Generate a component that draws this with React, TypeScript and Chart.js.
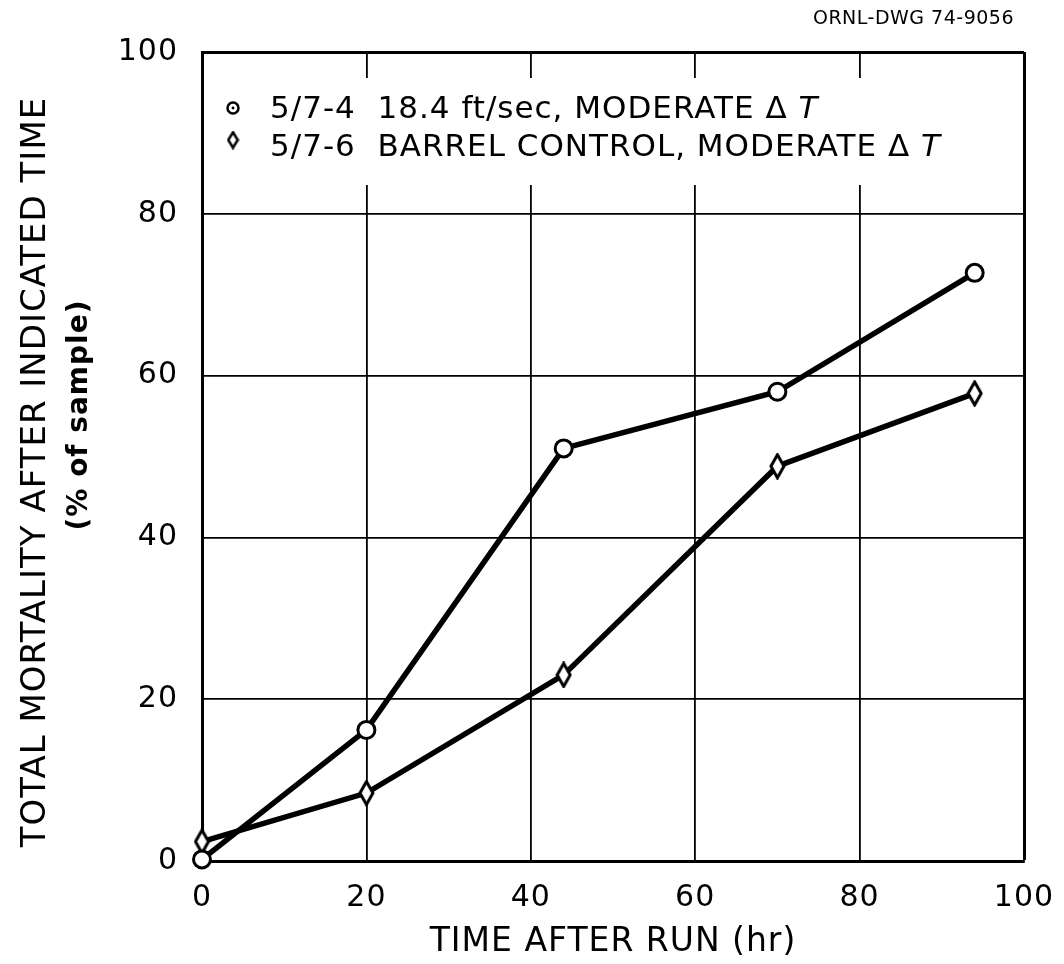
import React, { useEffect, useRef } from "react";
import { Chart, registerables } from "chart.js";

Chart.register(...registerables);

// ---- data ----
const timeHr = [0, 20, 44, 70, 94];
const mortality574 = [0.2, 16.2, 51, 58, 72.7];
const mortality576 = [2.4, 8.4, 23, 48.8, 57.8];
const legendLabels = ["5/7-4  18.4 ft/sec, MODERATE \u0394 ", "5/7-6  BARREL CONTROL, MODERATE \u0394 "];
const legendSuffix = "T";
const xAxisTitle = "TIME AFTER RUN (hr)";
const yAxisTitleLines = ["TOTAL MORTALITY AFTER INDICATED TIME", "(% of sample)"];
const drawingNumber = "ORNL-DWG 74-9056";

const FONT = "'DejaVu Sans', sans-serif";

function makeDiamond(w: number, h: number, lw: number): HTMLCanvasElement {
  const c = document.createElement("canvas");
  c.width = w;
  c.height = h;
  const g = c.getContext("2d")!;
  g.beginPath();
  g.moveTo(w / 2, lw / 2 + 0.5);
  g.lineTo(w - lw / 2 - 0.5, h / 2);
  g.lineTo(w / 2, h - lw / 2 - 0.5);
  g.lineTo(lw / 2 + 0.5, h / 2);
  g.closePath();
  g.fillStyle = "#fff";
  g.fill();
  g.lineWidth = lw;
  g.strokeStyle = "#000";
  g.lineJoin = "miter";
  g.stroke();
  return c;
}

export default function App() {
  const ref = useRef<HTMLCanvasElement | null>(null);

  useEffect(() => {
    document.body.style.margin = "0";
    const canvas = ref.current;
    if (!canvas) return;

    const diamond = makeDiamond(17, 27, 3);
    const legendDiamond = makeDiamond(13, 19, 2.5);

    const overlay = {
      id: "overlay",
      beforeDraw(chart: any) {
        chart.ctx.letterSpacing = "1px";
      },
      beforeDatasetsDraw(chart: any) {
        const { ctx, chartArea } = chart;
        ctx.save();
        ctx.fillStyle = "#fff";
        ctx.fillRect(chartArea.left + 2, chartArea.top + 26, chartArea.right - chartArea.left - 4, 107);
        ctx.restore();
      },
      afterDraw(chart: any) {
        const { ctx, chartArea } = chart;
        ctx.save();
        ctx.fillStyle = "#000";
        ctx.strokeStyle = "#000";

        // legend
        const mx = chartArea.left + 31;
        const tx = chartArea.left + 68;
        const rows = [chartArea.top + 58, chartArea.top + 96];
        ctx.lineWidth = 2.5;
        ctx.beginPath();
        ctx.arc(mx, rows[0] - 2, 5.5, 0, Math.PI * 2);
        ctx.stroke();
        ctx.beginPath();
        ctx.arc(mx, rows[0] - 2, 1.4, 0, Math.PI * 2);
        ctx.fill();
        ctx.drawImage(legendDiamond, mx - legendDiamond.width / 2, rows[1] - 8 - legendDiamond.height / 2);

        ctx.letterSpacing = "1px";
        ctx.textBaseline = "middle";
        ctx.textAlign = "left";
        legendLabels.forEach((lab, i) => {
          ctx.font = `31px ${FONT}`;
          ctx.fillText(lab, tx, rows[i]);
          const w = ctx.measureText(lab).width;
          ctx.font = `italic 31px ${FONT}`;
          ctx.fillText(legendSuffix, tx + w, rows[i]);
        });

        // y axis title (two lines)
        ctx.textAlign = "center";
        ctx.save();
        ctx.translate(36, 472);
        ctx.rotate(-Math.PI / 2);
        ctx.font = `34px ${FONT}`;
        ctx.fillText(yAxisTitleLines[0], 0, 0);
        ctx.restore();
        ctx.save();
        ctx.translate(80, 415);
        ctx.rotate(-Math.PI / 2);
        ctx.font = `bold 28px ${FONT}`;
        ctx.fillText(yAxisTitleLines[1], 0, 0);
        ctx.restore();

        // drawing number
        ctx.textAlign = "right";
        ctx.letterSpacing = "0.5px";
        ctx.font = `19px ${FONT}`;
        ctx.fillText(drawingNumber, 1014, 19);
        ctx.restore();
      },
    };

    const chart = new Chart(canvas, {
      type: "line",
      data: {
        datasets: [
          {
            label: legendLabels[0] + legendSuffix,
            data: timeHr.map((x, i) => ({ x, y: mortality574[i] })),
            borderColor: "#000",
            borderWidth: 5.5,
            pointStyle: "circle",
            pointRadius: 8.5,
            pointBorderWidth: 3,
            pointBackgroundColor: "#fff",
            pointBorderColor: "#000",
            tension: 0,
            clip: false as any,
          },
          {
            label: legendLabels[1] + legendSuffix,
            data: timeHr.map((x, i) => ({ x, y: mortality576[i] })),
            borderColor: "#000",
            borderWidth: 5.5,
            pointStyle: diamond as any,
            pointRadius: 10,
            tension: 0,
            clip: false as any,
          },
        ],
      },
      options: {
        responsive: false,
        animation: false,
        devicePixelRatio: 1,
        layout: { padding: { top: 52, right: 40, left: 0, bottom: 0 } },
        plugins: {
          legend: { display: false },
          tooltip: { enabled: false },
          title: { display: false },
        },
        scales: {
          x: {
            type: "linear",
            min: 0,
            max: 100,
            ticks: {
              stepSize: 20,
              color: "#000",
              font: { family: FONT, size: 30 },
              padding: 4,
              maxRotation: 0,
            },
            grid: {
              color: "#000",
              lineWidth: (c: any) => (c.tick && c.tick.value === 100 ? 3 : 1.8),
              drawTicks: true,
              tickLength: 15,
              tickColor: "rgba(0,0,0,0)",
            },
            border: { display: true, color: "#000", width: 3 },
            title: {
              display: true,
              text: xAxisTitle,
              color: "#000",
              font: { family: FONT, size: 33 },
              padding: { top: 0, bottom: 2 },
            },
            afterFit: (s: any) => {
              s.height = 103;
            },
          },
          y: {
            type: "linear",
            min: 0,
            max: 100,
            ticks: {
              stepSize: 20,
              color: "#000",
              font: { family: FONT, size: 30 },
              padding: 24,
            },
            grid: {
              color: "#000",
              lineWidth: (c: any) => (c.tick && c.tick.value === 100 ? 3 : 1.8),
              drawTicks: false,
            },
            border: { display: true, color: "#000", width: 3 },
            afterFit: (s: any) => {
              s.width = 202;
            },
          },
        },
      },
      plugins: [overlay],
    });

    return () => chart.destroy();
  }, []);

  return (
    <div style={{ width: 1064, height: 964 }}>
      <canvas ref={ref} width={1064} height={964} style={{ display: "block", width: 1064, height: 964 }} />
    </div>
  );
}
